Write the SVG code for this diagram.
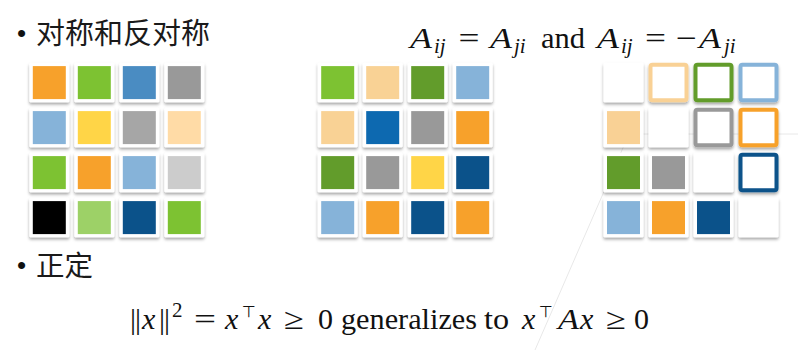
<svg xmlns="http://www.w3.org/2000/svg" xmlns:xlink="http://www.w3.org/1999/xlink" width="798" height="350" viewBox="0 0 798 350">
<style>
.cjk{font-family:"Liberation Sans","Noto Sans CJK SC",sans-serif;fill:#1a1a1a}
.bul{font-family:"Liberation Sans",sans-serif;fill:#111}
.m{font-family:"Liberation Serif","Times New Roman","DejaVu Serif",serif;font-size:30px;fill:#111}
.it{font-style:italic}
.sub{font-size:21px;font-style:italic}
.sup{font-size:21px}
.top{font-family:"DejaVu Sans",sans-serif;font-size:16px;fill:#111}
.o{fill:#fff;stroke-width:4;filter:url(#sh)}
.bg{fill:none;stroke:#e8e8e8;stroke-width:1}
</style>
<defs>
<filter id="sh" x="-20%" y="-20%" width="140%" height="150%">
<feDropShadow dx="0" dy="2.2" stdDeviation="1.5" flood-color="#000" flood-opacity="0.35"/>
</filter>
<rect id="tile" width="40" height="39.5" rx="1.5" fill="#fff" filter="url(#sh)"/>
</defs>
<rect width="798" height="350" fill="#fff"/>
<g id="background">
<polyline class="bg" points="535,350 629,134 798,134"/>
</g>
<g id="connectors"/>
<g id="heading-1">
<text class="bul" x="17" y="41.5" font-size="26">•</text>
<text class="cjk" x="36" y="43.5" font-size="29">对称和反对称</text>
</g>
<g id="heading-2">
<text class="bul" x="17" y="274" font-size="26">•</text>
<text class="cjk" x="36" y="275.5" font-size="28.5">正定</text>
</g>
<g id="formula-top">
<text class="m" y="48"><tspan class="it" x="410" textLength="22" lengthAdjust="spacingAndGlyphs">A</tspan><tspan class="sub" x="434" y="52.5">ij</tspan><tspan x="458.5" y="48" textLength="21" lengthAdjust="spacingAndGlyphs">=</tspan><tspan class="it" x="490" textLength="22" lengthAdjust="spacingAndGlyphs">A</tspan><tspan class="sub" x="514" y="52.5">ji</tspan><tspan x="541" y="48" textLength="44" lengthAdjust="spacingAndGlyphs">and</tspan><tspan class="it" x="597" textLength="22" lengthAdjust="spacingAndGlyphs">A</tspan><tspan class="sub" x="621" y="52.5">ij</tspan><tspan x="645" y="48" textLength="21" lengthAdjust="spacingAndGlyphs">=</tspan><tspan x="676" textLength="21" lengthAdjust="spacingAndGlyphs">−</tspan><tspan class="it" x="699" textLength="22" lengthAdjust="spacingAndGlyphs">A</tspan><tspan class="sub" x="724" y="52.5">ji</tspan></text>
</g>
<g id="formula-bottom">
<text class="m" y="329"><tspan x="130">|</tspan><tspan x="135">|</tspan><tspan class="it" x="142">x</tspan><tspan x="159">|</tspan><tspan x="164">|</tspan><tspan class="sup" x="172" y="317">2</tspan><tspan x="194" y="329" textLength="22" lengthAdjust="spacingAndGlyphs">=</tspan><tspan class="it" x="225">x</tspan><tspan class="it" x="258">x</tspan><tspan x="284" textLength="20" lengthAdjust="spacingAndGlyphs">≥</tspan><tspan x="318">0</tspan><tspan x="341" textLength="136" lengthAdjust="spacingAndGlyphs">generalizes</tspan><tspan x="484" textLength="25" lengthAdjust="spacingAndGlyphs">to</tspan><tspan class="it" x="522">x</tspan><tspan class="it" x="558" textLength="21" lengthAdjust="spacingAndGlyphs">A</tspan><tspan class="it" x="580">x</tspan><tspan x="606" textLength="20" lengthAdjust="spacingAndGlyphs">≥</tspan><tspan x="634">0</tspan></text>
<text class="top" x="242" y="317">⊤</text>
<text class="top" x="539" y="317">⊤</text>
</g>
<g id="grid-left">
<g id="L00" transform="translate(29.3 62.8)"><use href="#tile"/><rect x="3.5" y="3.3" width="33" height="33" fill="#F7A12B"/></g>
<g id="L01" transform="translate(74.3 62.8)"><use href="#tile"/><rect x="3.5" y="3.3" width="33" height="33" fill="#7DC232"/></g>
<g id="L02" transform="translate(119.3 62.8)"><use href="#tile"/><rect x="3.5" y="3.3" width="33" height="33" fill="#4A8CC2"/></g>
<g id="L03" transform="translate(164.3 62.8)"><use href="#tile"/><rect x="3.5" y="3.3" width="33" height="33" fill="#999999"/></g>
<g id="L10" transform="translate(29.3 107.8)"><use href="#tile"/><rect x="3.5" y="3.3" width="33" height="33" fill="#86B3D9"/></g>
<g id="L11" transform="translate(74.3 107.8)"><use href="#tile"/><rect x="3.5" y="3.3" width="33" height="33" fill="#FFD547"/></g>
<g id="L12" transform="translate(119.3 107.8)"><use href="#tile"/><rect x="3.5" y="3.3" width="33" height="33" fill="#A6A6A6"/></g>
<g id="L13" transform="translate(164.3 107.8)"><use href="#tile"/><rect x="3.5" y="3.3" width="33" height="33" fill="#FFDBA6"/></g>
<g id="L20" transform="translate(29.3 152.8)"><use href="#tile"/><rect x="3.5" y="3.3" width="33" height="33" fill="#7DC232"/></g>
<g id="L21" transform="translate(74.3 152.8)"><use href="#tile"/><rect x="3.5" y="3.3" width="33" height="33" fill="#F7A12B"/></g>
<g id="L22" transform="translate(119.3 152.8)"><use href="#tile"/><rect x="3.5" y="3.3" width="33" height="33" fill="#86B3D9"/></g>
<g id="L23" transform="translate(164.3 152.8)"><use href="#tile"/><rect x="3.5" y="3.3" width="33" height="33" fill="#CCCCCC"/></g>
<g id="L30" transform="translate(29.3 197.8)"><use href="#tile"/><rect x="3.5" y="3.3" width="33" height="33" fill="#000000"/></g>
<g id="L31" transform="translate(74.3 197.8)"><use href="#tile"/><rect x="3.5" y="3.3" width="33" height="33" fill="#9DD167"/></g>
<g id="L32" transform="translate(119.3 197.8)"><use href="#tile"/><rect x="3.5" y="3.3" width="33" height="33" fill="#0B528A"/></g>
<g id="L33" transform="translate(164.3 197.8)"><use href="#tile"/><rect x="3.5" y="3.3" width="33" height="33" fill="#7DC232"/></g>
</g>
<g id="grid-middle">
<g id="M00" transform="translate(317.7 62.8)"><use href="#tile"/><rect x="3.5" y="3.3" width="33" height="33" fill="#7DC232"/></g>
<g id="M01" transform="translate(362.7 62.8)"><use href="#tile"/><rect x="3.5" y="3.3" width="33" height="33" fill="#F9D295"/></g>
<g id="M02" transform="translate(407.7 62.8)"><use href="#tile"/><rect x="3.5" y="3.3" width="33" height="33" fill="#629C2B"/></g>
<g id="M03" transform="translate(452.7 62.8)"><use href="#tile"/><rect x="3.5" y="3.3" width="33" height="33" fill="#86B3D9"/></g>
<g id="M10" transform="translate(317.7 107.8)"><use href="#tile"/><rect x="3.5" y="3.3" width="33" height="33" fill="#F9D295"/></g>
<g id="M11" transform="translate(362.7 107.8)"><use href="#tile"/><rect x="3.5" y="3.3" width="33" height="33" fill="#0D69B0"/></g>
<g id="M12" transform="translate(407.7 107.8)"><use href="#tile"/><rect x="3.5" y="3.3" width="33" height="33" fill="#999999"/></g>
<g id="M13" transform="translate(452.7 107.8)"><use href="#tile"/><rect x="3.5" y="3.3" width="33" height="33" fill="#F7A12B"/></g>
<g id="M20" transform="translate(317.7 152.8)"><use href="#tile"/><rect x="3.5" y="3.3" width="33" height="33" fill="#629C2B"/></g>
<g id="M21" transform="translate(362.7 152.8)"><use href="#tile"/><rect x="3.5" y="3.3" width="33" height="33" fill="#999999"/></g>
<g id="M22" transform="translate(407.7 152.8)"><use href="#tile"/><rect x="3.5" y="3.3" width="33" height="33" fill="#FFD547"/></g>
<g id="M23" transform="translate(452.7 152.8)"><use href="#tile"/><rect x="3.5" y="3.3" width="33" height="33" fill="#0B528A"/></g>
<g id="M30" transform="translate(317.7 197.8)"><use href="#tile"/><rect x="3.5" y="3.3" width="33" height="33" fill="#86B3D9"/></g>
<g id="M31" transform="translate(362.7 197.8)"><use href="#tile"/><rect x="3.5" y="3.3" width="33" height="33" fill="#F7A12B"/></g>
<g id="M32" transform="translate(407.7 197.8)"><use href="#tile"/><rect x="3.5" y="3.3" width="33" height="33" fill="#0B528A"/></g>
<g id="M33" transform="translate(452.7 197.8)"><use href="#tile"/><rect x="3.5" y="3.3" width="33" height="33" fill="#F7A12B"/></g>
</g>
<g id="grid-right">
<g id="R00" transform="translate(603.5 62.8)"><use href="#tile"/></g>
<g id="R01" transform="translate(648.5 62.8)"><rect class="o" x="2" y="2" width="36" height="35.5" rx="2" stroke="#F9D195"/></g>
<g id="R02" transform="translate(693.5 62.8)"><rect class="o" x="2" y="2" width="36" height="35.5" rx="2" stroke="#629C2B"/></g>
<g id="R03" transform="translate(738.5 62.8)"><rect class="o" x="2" y="2" width="36" height="35.5" rx="2" stroke="#86B3D9"/></g>
<g id="R10" transform="translate(603.5 107.8)"><use href="#tile"/><rect x="3.5" y="3.3" width="33" height="33" fill="#F9D195"/></g>
<g id="R11" transform="translate(648.5 107.8)"><use href="#tile"/></g>
<g id="R12" transform="translate(693.5 107.8)"><rect class="o" x="2" y="2" width="36" height="35.5" rx="2" stroke="#999999"/></g>
<g id="R13" transform="translate(738.5 107.8)"><rect class="o" x="2" y="2" width="36" height="35.5" rx="2" stroke="#F7A12B"/></g>
<g id="R20" transform="translate(603.5 152.8)"><use href="#tile"/><rect x="3.5" y="3.3" width="33" height="33" fill="#629C2B"/></g>
<g id="R21" transform="translate(648.5 152.8)"><use href="#tile"/><rect x="3.5" y="3.3" width="33" height="33" fill="#999999"/></g>
<g id="R22" transform="translate(693.5 152.8)"><use href="#tile"/></g>
<g id="R23" transform="translate(738.5 152.8)"><rect class="o" x="2" y="2" width="36" height="35.5" rx="2" stroke="#0B528A"/></g>
<g id="R30" transform="translate(603.5 197.8)"><use href="#tile"/><rect x="3.5" y="3.3" width="33" height="33" fill="#86B3D9"/></g>
<g id="R31" transform="translate(648.5 197.8)"><use href="#tile"/><rect x="3.5" y="3.3" width="33" height="33" fill="#F7A12B"/></g>
<g id="R32" transform="translate(693.5 197.8)"><use href="#tile"/><rect x="3.5" y="3.3" width="33" height="33" fill="#0B528A"/></g>
<g id="R33" transform="translate(738.5 197.8)"><use href="#tile"/></g>
</g>
</svg>
